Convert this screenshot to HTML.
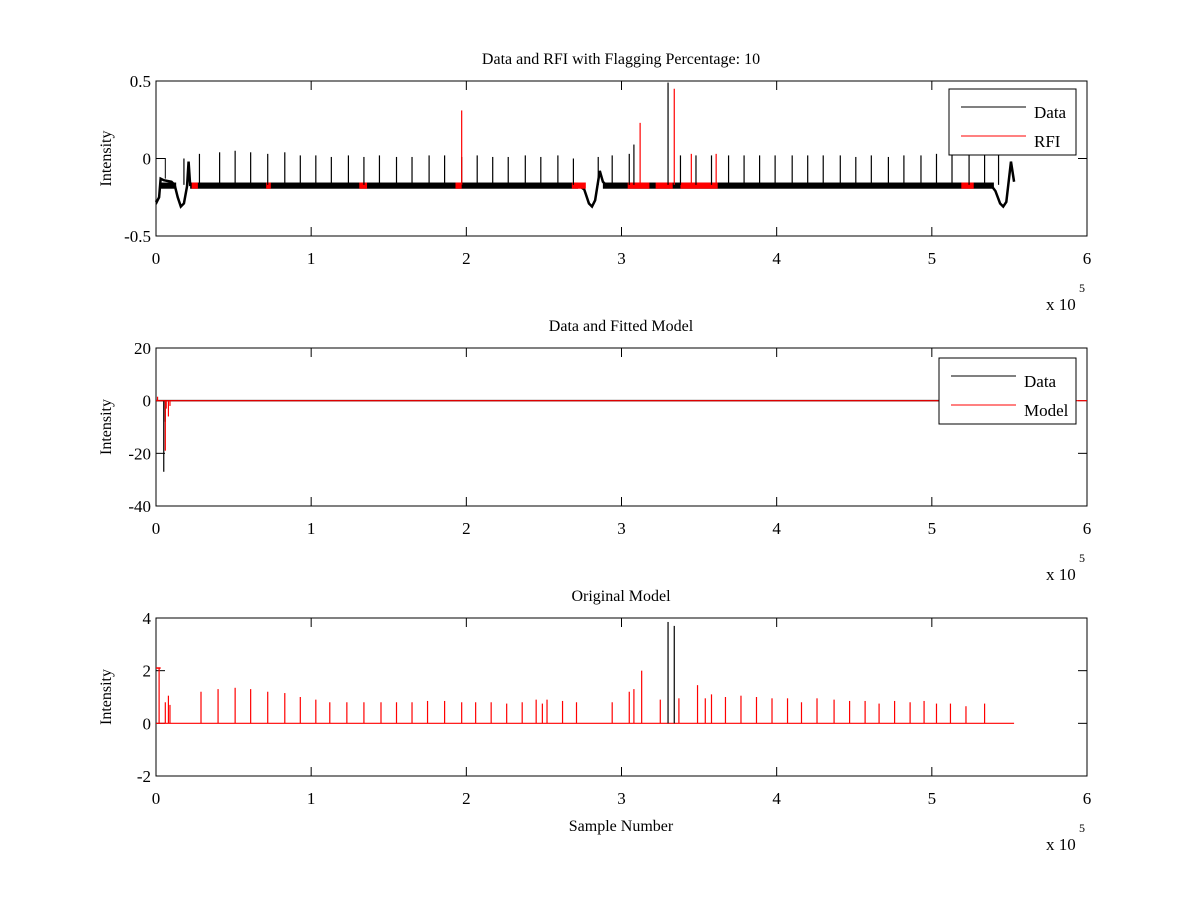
<!DOCTYPE html>
<html><head><meta charset="utf-8">
<style>
html,body{margin:0;padding:0;background:#fff}
svg{display:block;font-family:"Liberation Serif","DejaVu Serif",serif}
text{fill:#000}
</style></head>
<body>
<svg id="fig" width="1200" height="900" viewBox="0 0 1200 900"></svg>
<script>
// ---------- data (x in units of 1e5 samples) ----------
const xTicks = [0,1,2,3,4,5,6];
const yTicks1 = [-0.5,0,0.5];
const yTicks2 = [-40,-20,0,20];
const yTicks3 = [-2,0,2,4];
// Panel 1 baseline trend (x, value)
const base1X = [0,0.005,0.01,0.02,0.03,0.05,0.1,0.12,0.14,0.16,0.18,0.2,0.21,0.22,2.72,2.76,2.79,2.81,2.83,2.86,2.88,2.9,5.38,5.41,5.44,5.46,5.48,5.51,5.53];
const base1Y = [-0.27,-0.28,-0.27,-0.25,-0.13,-0.14,-0.15,-0.17,-0.25,-0.31,-0.29,-0.18,-0.02,-0.17,-0.17,-0.2,-0.29,-0.31,-0.27,-0.08,-0.15,-0.17,-0.17,-0.21,-0.29,-0.31,-0.28,-0.02,-0.15];
// noisy flat regions [start,end]
const bandStart = [0.03,0.22,2.88];
const bandEnd = [0.13,2.72,5.4];
// flagged RFI regions
const rfiStart = [0.23,0.71,1.31,1.93,2.68,3.04,3.22,3.38,5.19];
const rfiEnd = [0.27,0.74,1.36,1.97,2.77,3.18,3.33,3.62,5.27];
// Panel 1 spikes
const sp1X = [0.18,0.28,0.41,0.51,0.61,0.72,0.83,0.93,1.03,1.13,1.24,1.34,1.44,1.55,1.65,1.76,1.86,1.97,2.07,2.17,2.27,2.38,2.48,2.59,2.69,2.85,2.94,3.05,3.08,3.3,3.38,3.48,3.58,3.69,3.79,3.89,3.99,4.1,4.2,4.3,4.41,4.51,4.61,4.72,4.82,4.93,5.03,5.13,5.24,5.34,5.43];
const sp1Y = [0.0,0.03,0.04,0.05,0.04,0.03,0.04,0.02,0.02,0.01,0.02,0.01,0.02,0.01,0.01,0.02,0.02,0.01,0.02,0.01,0.01,0.02,0.01,0.02,0.0,0.01,0.02,0.03,0.09,0.49,0.02,0.02,0.02,0.02,0.02,0.02,0.02,0.02,0.02,0.02,0.02,0.01,0.02,0.01,0.02,0.02,0.03,0.02,0.03,0.02,0.02];
const rsp1X = [1.97,3.12,3.34,3.45,3.61];
const rsp1Y = [0.31,0.23,0.45,0.03,0.03];
// Panel 2
const dat2X = [0.05,0.06,0.065];
const dat2Y = [-27,-8,-3];
const mod2X = [0.01,0.06,0.065,0.08,0.09];
const mod2Y = [1.5,-19,-3,-6,-2];
// Panel 3 model spikes
const sp3X = [0.02,0.06,0.08,0.09,0.29,0.4,0.51,0.61,0.72,0.83,0.93,1.03,1.12,1.23,1.34,1.45,1.55,1.65,1.75,1.86,1.97,2.06,2.16,2.26,2.36,2.45,2.49,2.52,2.62,2.71,2.94,3.05,3.08,3.13,3.25,3.37,3.49,3.54,3.58,3.67,3.77,3.87,3.97,4.07,4.16,4.26,4.37,4.47,4.57,4.66,4.76,4.86,4.95,5.03,5.12,5.22,5.34];
const sp3Y = [2.1,0.8,1.05,0.7,1.2,1.3,1.35,1.3,1.2,1.15,1.0,0.9,0.8,0.8,0.8,0.8,0.8,0.8,0.85,0.85,0.8,0.8,0.8,0.75,0.8,0.9,0.75,0.9,0.85,0.8,0.8,1.2,1.3,2.0,0.9,0.95,1.45,0.95,1.1,1.0,1.05,1.0,0.95,0.95,0.8,0.95,0.9,0.85,0.85,0.75,0.85,0.8,0.85,0.75,0.75,0.65,0.75];
const blk3X = [3.3,3.34];
const blk3Y = [3.85,3.7];

// ---------- drawing ----------
const NS="http://www.w3.org/2000/svg";
const svg=document.getElementById('fig');
function mk(tag,attrs,parent){const e=document.createElementNS(NS,tag);for(const k in attrs)e.setAttribute(k,attrs[k]);(parent||svg).appendChild(e);return e;}
const X0=156,X1=1087;
function sx(v){return X0+(v-0)/(6-0)*(X1-X0);}
function makeY(lo,hi,top,bot){return v=>bot-(v-lo)/(hi-lo)*(bot-top);}

function axes(g,top,bot,lo,hi,yt,title,ylabel,xlabel){
  const sy=makeY(lo,hi,top,bot);
  let r=mk('rect',{x:X0,y:top,width:X1-X0,height:bot-top,fill:'none',stroke:'#000','stroke-width':1},g);
  
  xTicks.forEach(t=>{
    const x=sx(t);
    mk('line',{x1:x,x2:x,y1:bot,y2:bot-9,stroke:'#000'},g);
    mk('line',{x1:x,x2:x,y1:top,y2:top+9,stroke:'#000'},g);
    let tx=mk('text',{x:x,y:bot+28,'font-size':17,'text-anchor':'middle'},g);tx.textContent=t;
    
  });
  yt.forEach(t=>{
    const y=sy(t);
    mk('line',{x1:X0,x2:X0+9,y1:y,y2:y,stroke:'#000'},g);
    mk('line',{x1:X1,x2:X1-9,y1:y,y2:y,stroke:'#000'},g);
    let tx=mk('text',{x:X0-5,y:y+6,'font-size':17,'text-anchor':'end'},g);tx.textContent=t;
    
  });
  let tt=mk('text',{x:621,y:top-17,'font-size':16,'text-anchor':'middle'},g);tt.textContent=title;
  
  const cy=(top+bot)/2;
  let yl=mk('text',{x:0,y:0,'font-size':16,'text-anchor':'middle',transform:`translate(${X0-45},${cy}) rotate(-90)`},g);yl.textContent=ylabel;
  
  let ex=mk('text',{x:1046,y:bot+74,'font-size':17},g);ex.textContent='x 10';
  
  let e5=mk('text',{x:1079,y:bot+56,'font-size':12},g);e5.textContent='5';
  if(xlabel){let xl=mk('text',{x:621,y:bot+55,'font-size':16,'text-anchor':'middle'},g);xl.textContent=xlabel;
    }
  return sy;
}
function spikes(g,xs,ys,base,sy,color,name){
  xs.forEach((x,i)=>{const l=mk('line',{x1:sx(x),x2:sx(x),y1:sy(base),y2:sy(ys[i]),stroke:color,'stroke-width':1.2},g);
    });
}
function legend(g,x,y,w,h,labels,colors){
  const r=mk('rect',{x:x,y:y,width:w,height:h,fill:'#fff',stroke:'#000'},g);
  
  labels.forEach((lb,i)=>{
    const ly=y+18+i*29;
    mk('line',{x1:x+12,x2:x+77,y1:ly,y2:ly,stroke:colors[i]},g);
    const t=mk('text',{x:x+85,y:ly+11,'font-size':17},g);t.textContent=lb;
    
  });
}

// Panel 1
const g1=mk('g',{});
const sy1=axes(g1,81,236,-0.5,0.5,yTicks1,'Data and RFI with Flagging Percentage: 10','Intensity');
mk('polyline',{points:`${sx(0)},${sy1(-0.27)} ${sx(0)},${sy1(0)} ${sx(0.06)},${sy1(0)} ${sx(0.06)},${sy1(-0.13)}`,fill:'none',stroke:'#000','stroke-width':1},g1);
let bl=mk('polyline',{points:base1X.map((x,i)=>sx(x)+','+sy1(base1Y[i])).join(' '),fill:'none',stroke:'#000','stroke-width':2.5},g1);

bandStart.forEach((s,i)=>{mk('rect',{x:sx(s),y:sy1(-0.155),width:sx(bandEnd[i])-sx(s),height:sy1(-0.195)-sy1(-0.155),fill:'#000'},g1);});
rfiStart.forEach((s,i)=>{const r=mk('rect',{x:sx(s),y:sy1(-0.155),width:sx(rfiEnd[i])-sx(s),height:sy1(-0.195)-sy1(-0.155),fill:'#f00'},g1);
  });
spikes(g1,sp1X,sp1Y,-0.17,sy1,'#000','data-spike');
spikes(g1,rsp1X,rsp1Y,-0.17,sy1,'#f00','rfi-spike');
legend(g1,949,89,127,66,['Data','RFI'],['#000','#f00']);

// Panel 2
const g2=mk('g',{});
const sy2=axes(g2,348,506,-40,20,yTicks2,'Data and Fitted Model','Intensity');
mk('line',{x1:sx(0),x2:sx(5.53),y1:sy2(0),y2:sy2(0),stroke:'#000','stroke-width':1.5},g2);
spikes(g2,dat2X,dat2Y,0,sy2,'#000','data-spike');
let ml=mk('line',{x1:sx(0),x2:sx(6),y1:sy2(0),y2:sy2(0),stroke:'#f00','stroke-width':1.2},g2);

spikes(g2,mod2X,mod2Y,0,sy2,'#f00','model-spike');
legend(g2,939,358,137,66,['Data','Model'],['#000','#f00']);

// Panel 3
const g3=mk('g',{});
const sy3=axes(g3,618,776,-2,4,yTicks3,'Original Model','Intensity','Sample Number');
let ol=mk('line',{x1:sx(0),x2:sx(5.53),y1:sy3(0),y2:sy3(0),stroke:'#f00','stroke-width':1.2},g3);

spikes(g3,blk3X,blk3Y,0,sy3,'#000','data-spike');
spikes(g3,sp3X,sp3Y,0,sy3,'#f00','model-spike');
mk('line',{x1:sx(0),x2:sx(0.03),y1:sy3(2.1),y2:sy3(2.1),stroke:'#f00','stroke-width':1.5},g3);
</script>
</body></html>
